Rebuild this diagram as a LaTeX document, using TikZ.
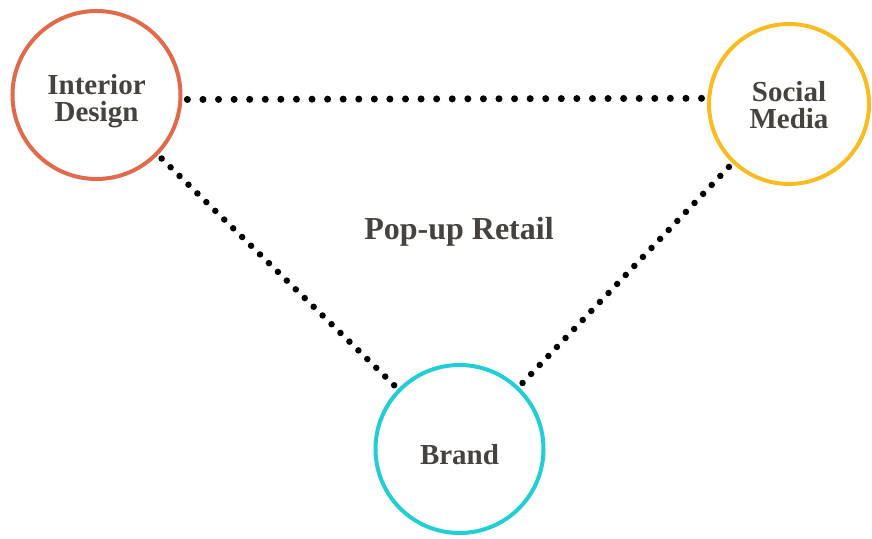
\documentclass[tikz,border=0pt]{standalone}
\usepackage{fontspec}
\setmainfont{Liberation Serif}
\definecolor{txt}{HTML}{46423D}
\definecolor{cID}{HTML}{DF6B4B}
\definecolor{cSM}{HTML}{F8BB22}
\definecolor{cBR}{HTML}{22CED6}
\begin{document}
\begin{tikzpicture}[x=1pt,y=1pt,
  hub/.style={circle,draw,line width=4pt,inner sep=0pt,fill=white},
  hubtext/.style={text=txt,font=\fontsize{29}{27}\selectfont\bfseries,align=center},
  dotline/.style={line width=6.5pt,line cap=round,black,shorten <=5pt,shorten >=5pt},
  dotwide/.style={dotline,line width=7pt,dash pattern=on 0pt off 15.58pt}]
\useasboundingbox (0,0) rectangle (872,538);
\fill[white] (0,0) rectangle (872,538);
\node[hub,draw=cID,minimum size=168pt] (ID) at (96.5,443) {};
\node[hub,draw=cSM,minimum size=160pt] (SM) at (789,434) {};
\node[hub,draw=cBR,minimum size=168pt] (BR) at (459.5,89) {};
\node[hubtext] (IDt) at ([yshift=-6pt]ID.center) {Interior\\Design};
\node[hubtext] (SMt) at ([yshift=-1pt]SM.center) {Social\\Media};
\node[hubtext] (BRt) at ([yshift=-6pt]BR.center) {Brand};
\node[text=txt,font=\fontsize{32}{36}\selectfont\bfseries] (PR) at (459,306) {Pop-up Retail};
\draw[dotwide] (ID.-3) -- (SM.176);
\draw[dotline,dash pattern=on 0pt off 12.49pt] (ID) -- (BR);
\draw[dotline,dash pattern=on 0pt off 12.45pt] (SM) -- (BR);
\end{tikzpicture}
\end{document}
